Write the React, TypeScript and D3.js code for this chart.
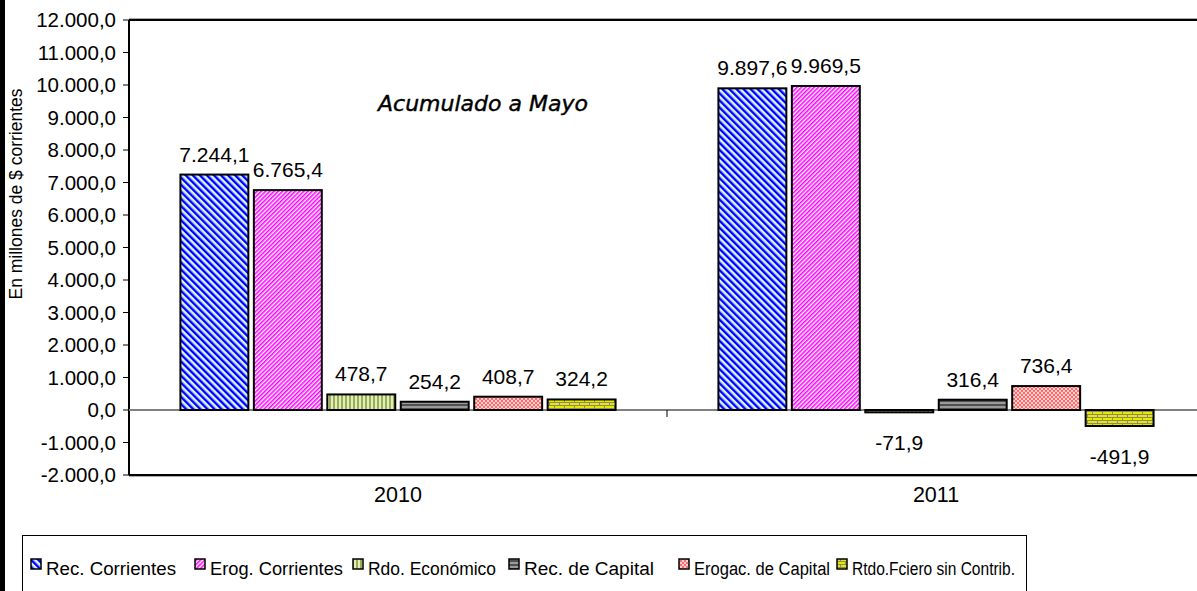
import React from "react";
import * as d3 from "d3";

const years = ["2010", "2011"];
const seriesNames = [
  "Rec. Corrientes",
  "Erog. Corrientes",
  "Rdo. Económico",
  "Rec. de Capital",
  "Erogac. de Capital",
  "Rtdo.Fciero sin Contrib.",
];
const values2010 = [7244.1, 6765.4, 478.7, 254.2, 408.7, 324.2];
const values2011 = [9897.6, 9969.5, -71.9, 316.4, 736.4, -491.9];
const yTicks = d3.range(-2000, 12001, 1000);
const fills = ["url(#p-blue)", "url(#p-mag)", "url(#p-green)", "url(#p-grey)", "url(#p-red)", "url(#p-brick)"];

const W = 1197;
const H = 591;
const FONT = "'Liberation Sans', Arial, sans-serif";

const loc = d3.formatLocale({ decimal: ",", thousands: ".", grouping: [3], currency: ["$", ""], minus: "-" });
const fmt = loc.format(",.1f");

const App = () => {
  const byYear = [values2010, values2011];
  const plot = { left: 129, right: 1205, top: 20, bottom: 475 };

  const x0 = d3.scaleBand().domain(years).range([plot.left, plot.right]).padding(0);
  const x1 = d3.scaleBand().domain(seriesNames).range([0, x0.bandwidth()])
    .paddingInner(0.075).paddingOuter(0.7);
  const y = d3.scaleLinear().domain([-2000, 12000]).range([plot.bottom, plot.top]);

  // legend layout (swatch x, text width)
  const legendX = [31, 195, 353, 509, 679, 837];
  const legendW = [130, 133, 128, 130, 136, 163];

  return (
    <svg width={W} height={H} style={{ position: "absolute", left: 0, top: 0, background: "#fff" }}>
      <defs>
        <pattern id="p-blue" width="5" height="5" patternUnits="userSpaceOnUse" patternTransform="rotate(-45)">
          <rect width="5" height="5" fill="#d8f4ff" />
          <rect width="2.4" height="5" fill="#0000ff" />
        </pattern>
        <pattern id="p-mag" width="3" height="3" patternUnits="userSpaceOnUse" patternTransform="rotate(45)">
          <rect width="3" height="3" fill="#ffffff" />
          <rect width="1.6" height="3" fill="#ff00ff" />
        </pattern>
        <pattern id="p-green" width="4" height="4" patternUnits="userSpaceOnUse">
          <rect width="4" height="4" fill="#e3edc4" />
          <rect width="2" height="4" fill="#99b050" />
        </pattern>
        <pattern id="p-grey" width="4" height="4" patternUnits="userSpaceOnUse">
          <rect width="4" height="4" fill="#9a9a9a" />
          <rect width="4" height="2" fill="#505050" />
        </pattern>
        <pattern id="p-red" width="4" height="4" patternUnits="userSpaceOnUse">
          <rect width="4" height="4" fill="#ffd0d0" />
          <rect width="2" height="2" fill="#ff6b6b" />
          <rect x="2" y="2" width="2" height="2" fill="#ff6b6b" />
        </pattern>
        <pattern id="p-brick" width="10" height="6" patternUnits="userSpaceOnUse">
          <rect width="10" height="6" fill="#e8e800" />
          <rect y="0" width="10" height="1" fill="#8a8a70" />
          <rect y="3" width="10" height="1" fill="#8a8a70" />
          <rect x="0" y="0" width="1" height="3" fill="#8a8a70" />
          <rect x="5" y="3" width="1" height="3" fill="#8a8a70" />
        </pattern>
      </defs>

      {/* left frame edge */}
      <rect x={0} y={0} width={5} height={H} fill="#000" />

      {/* plot frame */}
      <line x1={plot.left} x2={W} y1={plot.top} y2={plot.top} stroke="#000" strokeWidth={2} />
      <line x1={plot.left} x2={W} y1={plot.top - 1.5} y2={plot.top - 1.5} stroke="#aaa" strokeWidth={1} />
      <line x1={plot.left} x2={W} y1={plot.bottom} y2={plot.bottom} stroke="#000" strokeWidth={2} />
      <line x1={plot.left} x2={W} y1={plot.bottom + 1.5} y2={plot.bottom + 1.5} stroke="#aaa" strokeWidth={1} />
      <line x1={plot.left} x2={plot.left} y1={plot.top} y2={plot.bottom} stroke="#000" strokeWidth={2} />

      {/* y axis ticks */}
      {yTicks.map(t => (
        <g key={t}>
          <line x1={plot.left - 6} x2={plot.left} y1={y(t)} y2={y(t)} stroke="#000" strokeWidth={1} />
          <text x={plot.left - 13} y={y(t)} dy="0.36em" textAnchor="end" fontFamily={FONT} fontSize={20.5} fill="#000">
            {fmt(t)}
          </text>
        </g>
      ))}

      {/* zero line */}
      <line x1={plot.left} x2={W} y1={y(0)} y2={y(0)} stroke="#808080" strokeWidth={2} />
      <line x1={x0("2011")} x2={x0("2011")} y1={y(0)} y2={y(0) + 7} stroke="#000" strokeWidth={1} />

      {/* bars */}
      {years.map((yr, i) => (
        <g key={yr} transform={`translate(${x0(yr)},0)`}>
          {seriesNames.map((s, j) => {
            const v = byYear[i][j];
            const top = y(Math.max(0, v));
            const h = Math.abs(y(v) - y(0));
            const bx = x1(s);
            return (
              <g key={s}>
                <rect x={bx} y={top} width={x1.bandwidth()} height={h} fill={fills[j]} stroke="#000" strokeWidth={2} />
                <text
                  x={bx + x1.bandwidth() / 2}
                  y={v >= 0 ? y(v) - 13 : y(v) + 38}
                  textAnchor="middle"
                  fontFamily={FONT}
                  fontSize={21}
                  fill="#000"
                >
                  {fmt(v)}
                </text>
              </g>
            );
          })}
        </g>
      ))}

      {/* category labels */}
      {years.map(yr => (
        <text key={yr} x={x0(yr) + x0.bandwidth() / 2} y={502} textAnchor="middle" fontFamily={FONT} fontSize={21.5} fill="#000">
          {yr}
        </text>
      ))}

      {/* y axis title */}
      <text transform="translate(22,194) rotate(-90)" textAnchor="middle" fontFamily={FONT} fontSize={17.5} fill="#000">
        En millones de $ corrientes
      </text>

      {/* annotation */}
      <text x={483} y={111} textAnchor="middle" fontFamily="'Comic Sans MS', 'DejaVu Sans', sans-serif" fontStyle="italic"
        fontSize={21} textLength={210} lengthAdjust="spacingAndGlyphs" fill="#000" stroke="#000" strokeWidth={0.4}>
        Acumulado a Mayo
      </text>

      {/* legend */}
      <rect x={22.5} y={535.5} width={1004} height={80} fill="#fff" stroke="#000" strokeWidth={1} />
      {seriesNames.map((s, j) => (
        <g key={s}>
          <rect x={legendX[j]} y={559} width={10} height={10} fill={fills[j]} stroke="#000" strokeWidth={1.5} />
          <text x={legendX[j] + 15} y={575} fontFamily={FONT} fontSize={18} textLength={legendW[j]}
            lengthAdjust="spacingAndGlyphs" fill="#000">{s}</text>
        </g>
      ))}
    </svg>
  );
};

export default App;
